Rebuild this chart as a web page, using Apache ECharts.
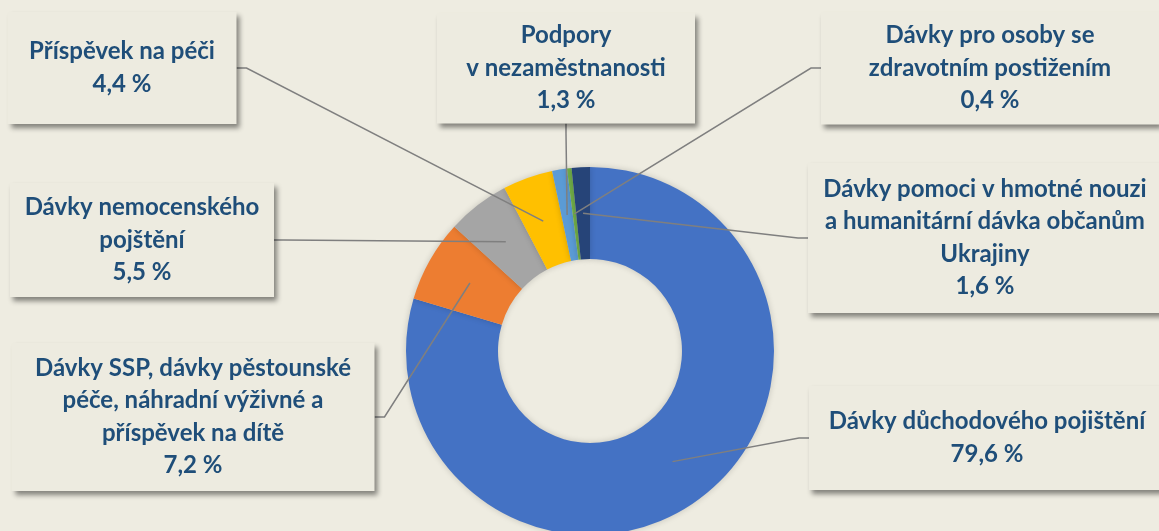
<!DOCTYPE html>
<html>
<head>
<meta charset="utf-8">
<script src="https://cdn.jsdelivr.net/npm/echarts@6/dist/echarts.min.js"></script>
<style>
    html, body { margin: 0; padding: 0; background: #EEECE1; }
    #chart { width: 1159px; height: 531px; }
</style>
</head>
<body>
<div id="chart"></div>
<script>
// kategorie dávek (zalomení řádků jako v originálu)
var categories = [
    'Dávky důchodového pojištění',
    'Dávky SSP, dávky pěstounské\npéče, náhradní výživné a\npříspěvek na dítě',
    'Dávky nemocenského\npojštění',
    'Příspěvek na péči',
    'Podpory\nv nezaměstnanosti',
    'Dávky pro osoby se\nzdravotním postižením',
    'Dávky pomoci v hmotné nouzi\na humanitární dávka občanům\nUkrajiny'
];
// podíl v %
var shares = [79.6, 7.2, 5.5, 4.4, 1.3, 0.4, 1.6];
var colors = ['#4472C4', '#ED7D31', '#A5A5A5', '#FFC000', '#5B9BD5', '#70AD47', '#264478'];

// rámečky popisků: střed x/y, šířka, výška, strana kam vede čára
var boxes = [
    { x: 987, y: 438, w: 356, h: 104, side: 'left' },
    { x: 193, y: 417, w: 363, h: 148, side: 'right' },
    { x: 142, y: 240, w: 264, h: 114, side: 'right' },
    { x: 122, y: 68, w: 229, h: 112, side: 'right' },
    { x: 566, y: 68, w: 258, h: 111, side: 'bottom' },
    { x: 990, y: 68, w: 338, h: 113, side: 'left' },
    { x: 985, y: 238, w: 354, h: 150, side: 'left' }
];

var CENTER = [590, 351];
var R_IN = 92, R_OUT = 184, R_ANCHOR = 138;
var LINE_H = 32.5;
var BEND = 10;

function fmtPct(v) {
    return v.toFixed(1).replace('.', ',') + ' %';
}

var ringData = shares.map(function (v, i) {
    return { name: categories[i], value: v, itemStyle: { color: colors[i] } };
});

// neviditelný vnitřní kruh nese popisky, čáry začínají uprostřed prstence
var anchorData = shares.map(function (v, i) {
    var b = boxes[i];
    var lines = categories[i].split('\n').length + 1;
    var pv = (b.h - lines * LINE_H) / 2;
    return {
        name: categories[i],
        value: v,
        label: { width: b.w, padding: [pv, 0, pv, 0] }
    };
});

function edgePoints(b) {
    if (b.side === 'left') return [[b.x - b.w / 2 - BEND, b.y], [b.x - b.w / 2, b.y]];
    if (b.side === 'right') return [[b.x + b.w / 2 + BEND, b.y], [b.x + b.w / 2, b.y]];
    return [[b.x, b.y + b.h / 2 + BEND], [b.x, b.y + b.h / 2]];
}

var chart = echarts.init(document.getElementById('chart'));
chart.setOption({
    backgroundColor: '#EEECE1',
    animation: false,
    series: [
        {
            type: 'pie',
            center: CENTER,
            radius: [R_IN, R_OUT],
            startAngle: 90,
            clockwise: true,
            silent: true,
            z: 2,
            label: { show: false },
            labelLine: { show: false },
            emphasis: { disabled: true },
            itemStyle: { borderWidth: 0, shadowBlur: 6, shadowColor: 'rgba(0,0,0,0.18)' },
            data: ringData
        },
        {
            type: 'pie',
            center: CENTER,
            radius: [0, R_ANCHOR],
            startAngle: 90,
            clockwise: true,
            silent: true,
            z: 3,
            avoidLabelOverlap: false,
            emphasis: { disabled: true },
            itemStyle: { color: 'rgba(0,0,0,0)', borderWidth: 0 },
            label: {
                show: true,
                position: 'outside',
                formatter: function (p) {
                    return p.name + '\n' + fmtPct(p.value);
                },
                color: '#1F4E79',
                fontFamily: 'Lato',
                fontWeight: 'bold',
                fontSize: 24,
                lineHeight: LINE_H,
                align: 'center',
                backgroundColor: '#EDEBE0',
                shadowColor: 'rgba(0,0,0,0.45)',
                shadowBlur: 5,
                shadowOffsetX: 3,
                shadowOffsetY: 4
            },
            labelLine: {
                show: true,
                length: 10,
                length2: 10,
                lineStyle: { color: '#7F7F7F', width: 1.5 }
            },
            labelLayout: function (params) {
                var b = boxes[params.dataIndex];
                var out = { x: b.x, y: b.y, align: 'center', verticalAlign: 'middle' };
                if (params.labelLinePoints) {
                    var ends = edgePoints(b);
                    out.labelLinePoints = [params.labelLinePoints[0], ends[0], ends[1]];
                }
                return out;
            },
            data: anchorData
        }
    ]
});
</script>
</body>
</html>
